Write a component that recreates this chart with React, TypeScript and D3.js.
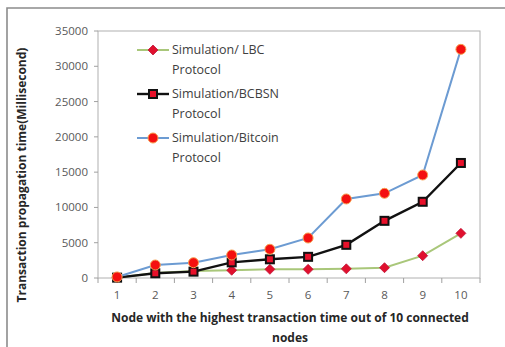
import React from "react";
import * as d3 from "d3";

// Node index (x axis categories)
const nodes = ["1", "2", "3", "4", "5", "6", "7", "8", "9", "10"];

// Propagation times in milliseconds
const lbcTimes = [50, 700, 1000, 1100, 1230, 1230, 1300, 1460, 3160, 6330];
const bcbsnTimes = [50, 670, 900, 2220, 2650, 3000, 4700, 8100, 10800, 16300];
const bitcoinTimes = [150, 1840, 2170, 3260, 4070, 5670, 11200, 12000, 14600, 32400];

const yTicks = [0, 5000, 10000, 15000, 20000, 25000, 30000, 35000];

const seriesNames = [
  "Simulation/ LBC",
  "Simulation/BCBSN",
  "Simulation/Bitcoin",
];

const W = 505;
const H = 347;
const FONT = "'Open Sans', 'Liberation Sans', sans-serif";

type Marker = "diamond" | "square" | "circle";

function MarkerShape({ kind, x, y }: { kind: Marker; x: number; y: number }) {
  if (kind === "diamond") {
    const r = 5;
    return (
      <path
        d={`M${x},${y - r}L${x + r},${y}L${x},${y + r}L${x - r},${y}Z`}
        fill="#e0102e"
        stroke="#c0183a"
        strokeWidth={0.8}
      />
    );
  }
  if (kind === "square") {
    const s = 8;
    return (
      <rect
        x={x - s / 2}
        y={y - s / 2}
        width={s}
        height={s}
        fill="#e8102a"
        stroke="#111"
        strokeWidth={2}
      />
    );
  }
  return <circle cx={x} cy={y} r={5} fill="#f41010" stroke="#f7a050" strokeWidth={1} />;
}

export default function App() {
  const left = 98;
  const right = 480;
  const top = 31;
  const bottom = 278;

  const x = d3.scaleBand<string>().domain(nodes).range([left, right]).padding(0);
  const y = d3.scaleLinear().domain([0, 35000]).range([bottom, top]);
  const cx = (n: string) => (x(n) as number) + x.bandwidth() / 2;

  const series: { name: string; values: number[]; color: string; width: number; marker: Marker }[] = [
    { name: seriesNames[0], values: lbcTimes, color: "#a9c77a", width: 2, marker: "diamond" },
    { name: seriesNames[1], values: bcbsnTimes, color: "#111111", width: 2.4, marker: "square" },
    { name: seriesNames[2], values: bitcoinTimes, color: "#6c9bd2", width: 2, marker: "circle" },
  ];

  const line = d3
    .line<number>()
    .x((_, i) => cx(nodes[i]))
    .y((v) => y(v));

  const boundaries = nodes.map((n) => x(n) as number).concat([right]);

  const legendRows = [50, 94, 138];

  return (
    <svg
      width={W}
      height={H}
      style={{ position: "absolute", left: 0, top: 0, background: "#fff" }}
      fontFamily={FONT}
    >
      {/* outer frame */}
      <path d={`M7,${H}L7,8L${W},8`} fill="none" stroke="#8c8c8c" strokeWidth={1.6} />

      {/* plot area border */}
      <rect x={left} y={top} width={right - left} height={bottom - top} fill="none" stroke="#b0b0b0" strokeWidth={1} />

      {/* y ticks */}
      {yTicks.map((t) => (
        <g key={t}>
          <line x1={left - 4} x2={left} y1={y(t)} y2={y(t)} stroke="#a0a0a0" />
          <text x={left - 10} y={y(t)} dy="0.35em" textAnchor="end" fontSize={11.5} fill="#595959">
            {t}
          </text>
        </g>
      ))}

      {/* x ticks */}
      {boundaries.map((b, i) => (
        <line key={i} x1={b} x2={b} y1={bottom} y2={bottom + 5} stroke="#a0a0a0" />
      ))}
      {nodes.map((n) => (
        <text key={n} x={cx(n)} y={bottom + 21} textAnchor="middle" fontSize={11.5} fill="#595959">
          {n}
        </text>
      ))}

      {/* series */}
      {series.map((s) => (
        <g key={s.name}>
          <path d={line(s.values) || ""} fill="none" stroke={s.color} strokeWidth={s.width} />
          {s.values.map((v, i) => (
            <MarkerShape key={i} kind={s.marker} x={cx(nodes[i])} y={y(v)} />
          ))}
        </g>
      ))}

      {/* legend */}
      {series.map((s, i) => (
        <g key={s.name}>
          <line x1={137} x2={169} y1={legendRows[i]} y2={legendRows[i]} stroke={s.color} strokeWidth={s.width} />
          <MarkerShape kind={s.marker} x={153} y={legendRows[i]} />
          <text x={172} y={legendRows[i]} dy="0.35em" fontSize={12.5} fill="#404040">
            {s.name}
          </text>
          <text x={172} y={legendRows[i] + 20} dy="0.35em" fontSize={12.5} fill="#404040">
            Protocol
          </text>
        </g>
      ))}

      {/* axis titles */}
      <text
        transform={`translate(22,175) rotate(-90)`}
        textAnchor="middle"
        dy="0.35em"
        fontSize={12}
        fontWeight="bold"
        fill="#262626"
      >
        Transaction propagation time(Millisecond)
      </text>
      <text x={290} y={318} textAnchor="middle" dy="0.35em" fontSize={12} fontWeight="bold" fill="#262626">
        Node with the highest transaction time out of 10 connected
      </text>
      <text x={290} y={338} textAnchor="middle" dy="0.35em" fontSize={12} fontWeight="bold" fill="#262626">
        nodes
      </text>
    </svg>
  );
}
